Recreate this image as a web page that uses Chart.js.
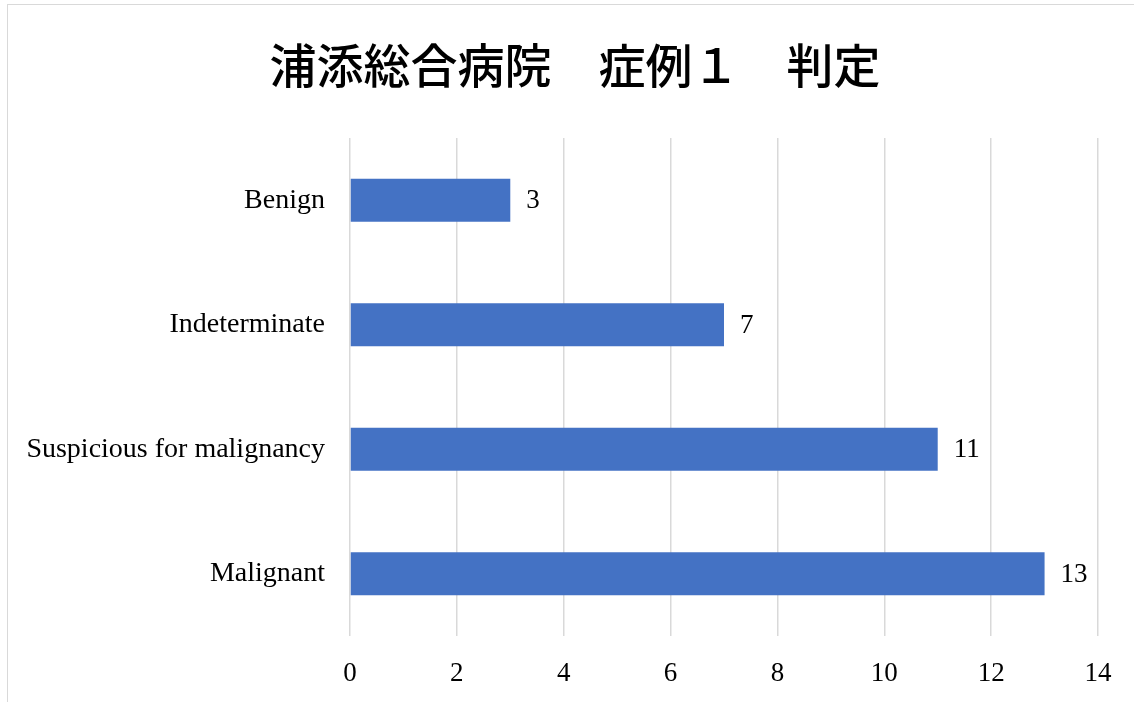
<!DOCTYPE html>
<html>
<head>
<meta charset="utf-8">
<script src="https://cdn.jsdelivr.net/npm/chart.js@4.4.1/dist/chart.umd.min.js"></script>
<style>
  html, body { margin: 0; padding: 0; width: 1134px; height: 702px; overflow: hidden; background: #fff; }
  #frame { position: absolute; left: 7px; top: 4px; width: 1200px; height: 800px; border-left: 1.5px solid #d9d9d9; border-top: 1.5px solid #d9d9d9; }
  #wrap { position: absolute; left: 8px; top: 5px; width: 1134px; height: 697px; }
</style>
</head>
<body>
<div id="frame"></div>
<div id="wrap"><canvas id="c" width="1134" height="697"></canvas></div>
<script>
const titleText = "浦添総合病院　症例１　判定";
const categories = ["Benign", "Indeterminate", "Suspicious for malignancy", "Malignant"];
const counts = [3, 7, 11, 13];
const xTicks = [0, 2, 4, 6, 8, 10, 12, 14];

const serif = "'Liberation Serif', 'DejaVu Serif', serif";

const titlePlugin = {
  id: 'titleDraw',
  afterDraw(chart) {
    const ctx = chart.ctx;
    ctx.save();
    ctx.font = "500 47px 'Noto Sans CJK JP'";
    ctx.fillStyle = '#000';
    ctx.textAlign = 'center';
    ctx.textBaseline = 'middle';
    ctx.fillText(titleText, chart.width / 2, 60);
    ctx.restore();
  }
};

const valueLabels = {
  id: 'valueLabels',
  afterDatasetsDraw(chart) {
    const ctx = chart.ctx;
    const meta = chart.getDatasetMeta(0);
    ctx.save();
    ctx.font = "27px " + serif;
    ctx.fillStyle = '#000';
    ctx.textAlign = 'left';
    ctx.textBaseline = 'middle';
    meta.data.forEach((bar, i) => {
      ctx.fillText(String(counts[i]), bar.x + 16, bar.y + 1);
    });
    ctx.restore();
  }
};

new Chart(document.getElementById('c'), {
  type: 'bar',
  data: {
    labels: categories,
    datasets: [{
      data: counts,
      backgroundColor: '#4472C4',
      borderWidth: 0,
      categoryPercentage: 1,
      barPercentage: 0.345
    }]
  },
  options: {
    indexAxis: 'y',
    responsive: false,
    animation: false,
    layout: { padding: { top: 133, right: 44, bottom: 0, left: 0 } },
    plugins: { legend: { display: false }, title: { display: false }, tooltip: { enabled: false } },
    scales: {
      x: {
        min: 0, max: 14,
        afterBuildTicks(scale) { scale.ticks = xTicks.map(v => ({ value: v })); },
        afterFit(scale) { scale.height = 66; },
        grid: { color: '#d9d9d9', lineWidth: 1.5, drawTicks: false },
        border: { display: false },
        ticks: { font: { family: serif, size: 27 }, color: '#000', padding: 22, maxRotation: 0 }
      },
      y: {
        afterFit(scale) { scale.width = 342; },
        grid: { display: false },
        border: { display: false },
        ticks: { font: { family: serif, size: 28 }, color: '#000', padding: 17 }
      }
    }
  },
  plugins: [titlePlugin, valueLabels]
});
</script>
</body>
</html>
